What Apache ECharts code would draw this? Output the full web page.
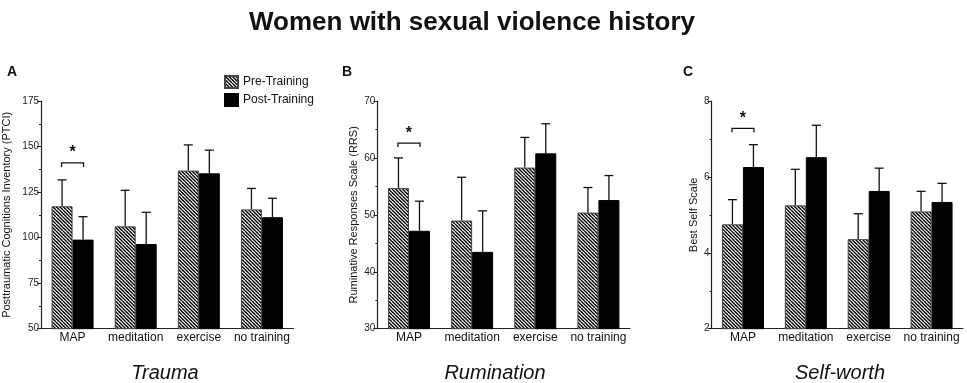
<!DOCTYPE html>
<html><head><meta charset="utf-8">
<script src="https://cdn.jsdelivr.net/npm/echarts@6/dist/echarts.min.js"></script>
<style>html,body{margin:0;padding:0;background:#fff}#c{width:967px;height:383px}</style>
</head><body><div id="c"></div>
<script>
const categories = ['MAP', 'meditation', 'exercise', 'no training'];
const seriesNames = ['Pre-Training', 'Post-Training'];
// Panel A: PTCI
const ptciPre = [117.2, 106.2, 136.8, 115.5];
const ptciPreErr = [131.7, 126.0, 150.9, 127.0];
const ptciPost = [98.9, 96.5, 135.3, 111.2];
const ptciPostErr = [111.5, 113.9, 148.0, 121.6];
// Panel B: RRS
const rrsPre = [54.7, 49.0, 58.3, 50.4];
const rrsPreErr = [60.0, 56.6, 63.6, 54.8];
const rrsPost = [47.2, 43.5, 60.8, 52.6];
const rrsPostErr = [52.4, 50.7, 66.0, 56.9];
// Panel C: Best Self Scale
const bssPre = [4.75, 5.25, 4.36, 5.09];
const bssPreErr = [5.40, 6.20, 5.03, 5.62];
const bssPost = [6.26, 6.52, 5.63, 5.34];
const bssPostErr = [6.85, 7.36, 6.23, 5.83];
// significance brackets (MAP group)
const sigLevels = [141, 62.6, 7.28];
// axes
const yMin = [50, 30, 2];
const yMax = [175, 70, 8];
const yInterval = [25, 10, 2];
const yNames = ['Posttraumatic Cognitions Inventory (PTCI)', 'Ruminative Responses Scale (RRS)', 'Best Self Scale'];
const panelTitles = ['Trauma', 'Rumination', 'Self-worth'];
const panelLetters = ['A', 'B', 'C'];

const FONT = '"Liberation Sans", Arial, sans-serif';
function hatch() {
  const c = document.createElement('canvas');
  c.width = 7; c.height = 7;
  const g = c.getContext('2d');
  g.fillStyle = '#fff'; g.fillRect(0, 0, 7, 7);
  g.strokeStyle = '#000'; g.lineWidth = 1.4;
  for (let k = -7; k <= 7; k += 3.5) { g.beginPath(); g.moveTo(k, 0); g.lineTo(k + 7, 7); g.stroke(); }
  return c;
}
const hatchFill = { image: hatch(), repeat: 'repeat' };

const grids = [
  { left: 40.6, top: 101, width: 252.9, height: 227.7 },
  { left: 377.4, top: 101, width: 252.6, height: 227.7 },
  { left: 711.5, top: 101, width: 251.5, height: 227.7 }
];
const nameGaps = [29, 18, 12];
const data = [
  [ptciPre, ptciPreErr, ptciPost, ptciPostErr],
  [rrsPre, rrsPreErr, rrsPost, rrsPostErr],
  [bssPre, bssPreErr, bssPost, bssPostErr]
];
const BW = 21;

const xAxes = [], yAxes = [], series = [], graphics = [];
for (let p = 0; p < 3; p++) {
  xAxes.push({
    gridIndex: p, type: 'category', data: categories,
    axisLine: { lineStyle: { color: '#222', width: 1.2 } },
    axisTick: { show: false },
    axisLabel: { color: '#111', fontSize: 12, fontFamily: FONT, margin: 3, interval: 0 }
  });
  yAxes.push({
    gridIndex: p, type: 'value', min: yMin[p], max: yMax[p], interval: yInterval[p],
    name: yNames[p], nameLocation: 'middle', nameGap: nameGaps[p],
    nameTextStyle: { color: '#111', fontSize: 11, fontFamily: FONT },
    axisLine: { show: true, lineStyle: { color: '#222', width: 1.2 } },
    axisTick: { show: true, length: 4, lineStyle: { color: '#222' } },
    minorTick: { show: true, splitNumber: 2, length: 2, lineStyle: { color: '#222' } },
    splitLine: { show: false },
    axisLabel: { color: '#222', fontSize: 10, fontFamily: FONT, margin: 2 }
  });
  const [pre, preErr, post, postErr] = data[p];
  series.push({
    type: 'bar', name: seriesNames[0], xAxisIndex: p, yAxisIndex: p, data: pre,
    barWidth: BW, barGap: '0%',
    itemStyle: { color: hatchFill, borderColor: '#444', borderWidth: 1 }
  });
  series.push({
    type: 'bar', name: seriesNames[1], xAxisIndex: p, yAxisIndex: p, data: post,
    barWidth: BW, barGap: '0%',
    itemStyle: { color: '#000', borderColor: '#000', borderWidth: 1 }
  });
  [[pre, preErr, -BW / 2], [post, postErr, BW / 2]].forEach(([vals, errs, off]) => {
    series.push({
      type: 'custom', xAxisIndex: p, yAxisIndex: p, silent: true, z: 1,
      data: vals.map((v, i) => [i, errs[i], v]),
      encode: { x: 0, y: 1 },
      renderItem: function (params, api) {
        const top = api.coord([api.value(0), api.value(1)]);
        const base = api.coord([api.value(0), api.value(2)]);
        const x = top[0] + off;
        return {
          type: 'group', children: [
            { type: 'line', shape: { x1: x, y1: base[1], x2: x, y2: top[1] }, style: { stroke: '#111', lineWidth: 1.3 } },
            { type: 'line', shape: { x1: x - 4.5, y1: top[1], x2: x + 4.5, y2: top[1] }, style: { stroke: '#111', lineWidth: 1.3 } }
          ]
        };
      }
    });
  });
  series.push({
    type: 'custom', xAxisIndex: p, yAxisIndex: p, silent: true,
    data: [[0, sigLevels[p]]], encode: { x: 0, y: 1 },
    renderItem: function (params, api) {
      const c = api.coord([api.value(0), api.value(1)]);
      const x1 = c[0] - 11, x2 = c[0] + 11, y = c[1];
      return {
        type: 'group', children: [
          { type: 'polyline', shape: { points: [[x1, y + 4], [x1, y], [x2, y], [x2, y + 4]] }, style: { stroke: '#111', lineWidth: 1.3, fill: null } },
          { type: 'text', style: { x: c[0], y: y - 2, text: '*', fontSize: 16, fontWeight: 'bold', fontFamily: FONT, fill: '#111', align: 'center', verticalAlign: 'bottom' } }
        ]
      };
    }
  });
}
const titleX = [165, 495, 840];
const letterX = [7, 342, 683];
for (let p = 0; p < 3; p++) {
  graphics.push({ type: 'text', x: titleX[p], y: 363, style: { text: panelTitles[p], font: 'italic 20px ' + FONT, fill: '#111', align: 'center', verticalAlign: 'top' } });
  graphics.push({ type: 'text', left: letterX[p], top: 65, style: { text: panelLetters[p], font: 'bold 14px ' + FONT, fill: '#111' } });
}
graphics.push({ type: 'text', x: 472, y: 10, style: { text: 'Women with sexual violence history', font: 'bold 26px ' + FONT, fill: '#111', align: 'center', verticalAlign: 'top' } });

const chart = echarts.init(document.getElementById('c'), null, { renderer: 'canvas' });
const opt = {
  backgroundColor: '#fff',
  animation: false,
  legend: {
    data: seriesNames, orient: 'vertical', left: 219, top: 70, itemGap: 4,
    itemWidth: 13, itemHeight: 12, icon: 'rect',
    textStyle: { fontSize: 12, fontFamily: FONT, color: '#111' }
  },
  grid: grids, xAxis: xAxes, yAxis: yAxes, series: series, graphic: graphics
};
chart.setOption(opt);
</script></body></html>
